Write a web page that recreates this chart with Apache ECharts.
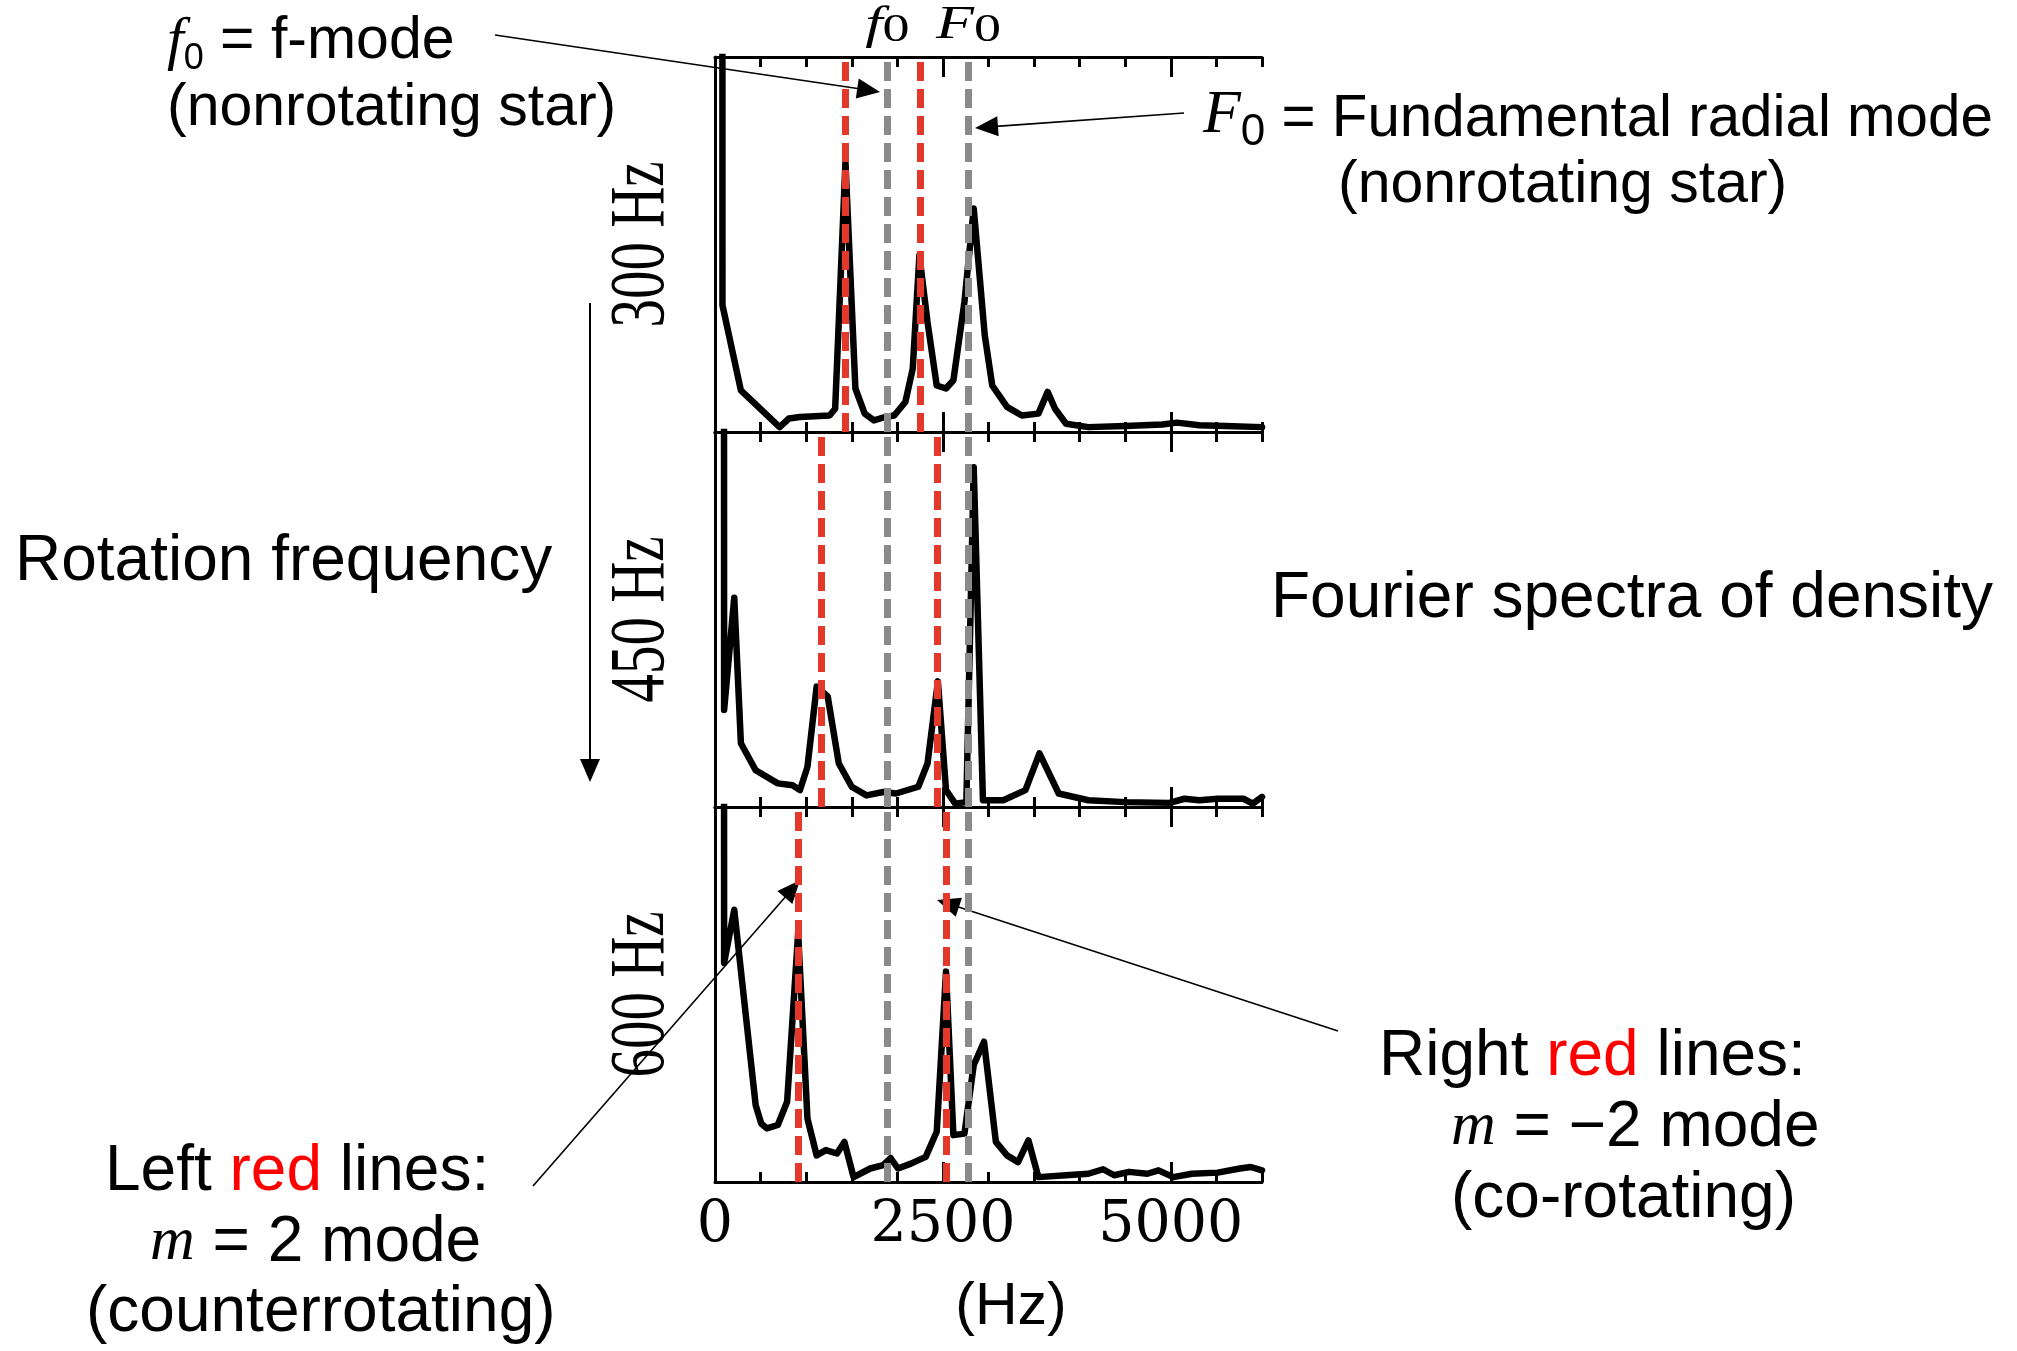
<!DOCTYPE html>
<html>
<head>
<meta charset="utf-8">
<title>Fourier spectra of density</title>
<script src="https://cdn.jsdelivr.net/npm/echarts@6/dist/echarts.min.js"></script>
<style>
html,body{margin:0;padding:0;background:#ffffff;}
#chart{width:2017px;height:1351px;}
</style>
</head>
<body>
<div id="chart"></div>
<script>
// ---------------- data ----------------
// x in Hz, y in percent of the panel height (arbitrary spectral amplitude)
const rotationLabels = ['300 Hz', '450 Hz', '600 Hz'];
const xTickLabels = [0, 2500, 5000];
const xMax = 6000;
const fMode0 = 1892;     // f0 : f-mode of the nonrotating star
const radialF0 = 2780;   // F0 : fundamental radial mode of the nonrotating star
const redLines300 = [1427, 2248];
const redLines450 = [1168, 2439];
const redLines600 = [913, 2540];

const spectrum300 = [
  [78, 400], [82, 33.8], [284, 11.1], [709, 1.3], [811, 3.6], [932, 4.0], [1257, 4.4],
  [1318, 6.2], [1431, 72.0], [1540, 11.6], [1642, 4.9], [1743, 3.1], [1865, 4.0],
  [1966, 4.4], [2088, 8.0], [2169, 16.9], [2242, 47.1], [2331, 29.3], [2432, 12.4],
  [2534, 11.6], [2615, 13.8], [2736, 34.7], [2838, 59.6], [2959, 25.8], [3041, 12.4],
  [3203, 6.7], [3365, 4.4], [3547, 4.9], [3649, 10.7], [3730, 6.2], [3851, 2.2],
  [4095, 1.3], [4500, 1.6], [4905, 2.0], [5068, 2.5], [5311, 1.8], [5595, 1.6], [6000, 1.3]
];
const spectrum450 = [
  [95, 400], [100, 25.9], [211, 55.8], [284, 17.0], [446, 9.8], [689, 6.3], [851, 5.8],
  [932, 4.5], [1014, 10.7], [1115, 32.1], [1236, 29.5], [1358, 11.6], [1500, 5.4],
  [1662, 3.1], [1845, 4.0], [1986, 3.6], [2230, 5.4], [2331, 11.6], [2445, 33.5],
  [2534, 4.5], [2635, 0.9], [2757, 1.3], [2838, 90.6], [2939, 1.8], [3162, 1.8],
  [3405, 4.5], [3559, 14.3], [3770, 3.6], [4095, 1.8], [4500, 1.3], [4986, 1.1],
  [5149, 2.2], [5311, 1.8], [5514, 2.2], [5797, 2.2], [5899, 0.9], [6000, 2.7]
];
const spectrum600 = [
  [95, 400], [100, 58.4], [211, 72.6], [446, 20.5], [507, 15.6], [568, 14.3], [689, 15.2],
  [791, 21.4], [912, 66.4], [1014, 16.9], [1115, 7.1], [1216, 8.5], [1338, 7.6],
  [1419, 10.7], [1520, 1.3], [1703, 3.6], [1845, 4.5], [1926, 6.4], [2007, 3.6],
  [2149, 4.9], [2311, 6.7], [2432, 13.4], [2534, 56.1], [2615, 12.5], [2736, 12.9],
  [2838, 31.2], [2951, 37.4], [3081, 10.7], [3203, 7.1], [3324, 5.3], [3438, 11.1],
  [3547, 1.3], [3851, 1.8], [4095, 2.2], [4257, 3.4], [4378, 1.8], [4541, 2.7],
  [4743, 2.2], [4865, 3.1], [5027, 1.3], [5230, 2.2], [5514, 2.5], [5757, 3.6],
  [5878, 4.0], [6000, 3.1]
];

// annotation arrow targets in data space: [panel, Hz, percent]
const arrowTargets = {
  f0:    [0, 1810, 90.7],
  F0:    [0, 2852, 81.1],
  left:  [2, 932, 80.5],
  right: [2, 2435, 75.2]
};

// ---------------- layout & style ----------------
const PLOT = { left: 715, width: 547, top: 57, height: 375 };
const RED = '#e2392b';
const GREY = '#8a8a8a';
const SANS = 'Liberation Sans';
const SERIF = 'Liberation Serif';

const panels = [
  { label: rotationLabels[0], data: spectrum300, red: redLines300 },
  { label: rotationLabels[1], data: spectrum450, red: redLines450 },
  { label: rotationLabels[2], data: spectrum600, red: redLines600 }
];

const chart = echarts.init(document.getElementById('chart'));

const grids = panels.map((p, i) => ({
  left: PLOT.left, width: PLOT.width,
  top: PLOT.top + i * PLOT.height, height: PLOT.height,
  containLabel: false
}));

const xAxes = [];
panels.forEach((p, i) => {
  ['bottom', 'top'].forEach(pos => {
    // minor ticks every 500 Hz + axis line
    xAxes.push({
      type: 'value', gridIndex: i, position: pos, min: 0, max: xMax, interval: 500,
      axisLine: { show: true, onZero: false, lineStyle: { color: '#000', width: 3 } },
      axisTick: { show: true, inside: true, length: 10, lineStyle: { color: '#000', width: 3 } },
      axisLabel: { show: false },
      splitLine: { show: false }
    });
    // major ticks at the labelled values
    xAxes.push({
      type: 'value', gridIndex: i, position: pos, min: 0, max: xMax, interval: 2500,
      axisLine: { show: false, onZero: false },
      axisTick: { show: true, inside: true, length: 20, customValues: xTickLabels,
                  lineStyle: { color: '#000', width: 3 } },
      axisLabel: { show: (i === 2 && pos === 'bottom'), customValues: xTickLabels,
                   formatter: v => String(v),
                   fontFamily: 'DejaVu Serif', fontSize: 57, color: '#000', margin: 16 },
      splitLine: { show: false }
    });
  });
});

const yAxes = panels.map((p, i) => ({
  type: 'value', gridIndex: i, min: 0, max: 100,
  axisLine: { show: true, onZero: false, lineStyle: { color: '#000', width: 3 } },
  axisTick: { show: false }, axisLabel: { show: false }, splitLine: { show: false }
}));

function vline(v, color) {
  return { xAxis: v, lineStyle: { color: color, width: 7, type: [19, 8] } };
}

const series = [];
panels.forEach((p, i) => {
  series.push({
    type: 'line', name: 'modes ' + p.label, xAxisIndex: 4 * i, yAxisIndex: i,
    data: [], z: 1, silent: true,
    markLine: {
      silent: true, symbol: ['none', 'none'], label: { show: false },
      lineStyle: { width: 7, type: [19, 8] },
      emphasis: { disabled: true },
      data: [vline(p.red[0], RED), vline(fMode0, GREY), vline(p.red[1], RED), vline(radialF0, GREY)]
    }
  });
  series.push({
    type: 'line', name: p.label, xAxisIndex: 4 * i, yAxisIndex: i,
    data: p.data, showSymbol: false, symbol: 'none', clip: true, z: 3, silent: true,
    lineStyle: { color: '#000', width: 6.5, join: 'round', cap: 'round' }
  });
});

chart.setOption({
  animation: false,
  backgroundColor: '#ffffff',
  grid: grids,
  xAxis: xAxes,
  yAxis: yAxes,
  series: series
});

// ---------------- annotations ----------------
const px = (panel, x, y) => chart.convertToPixel({ seriesIndex: 2 * panel + 1 }, [x, y]);

const rich = {
  t:   { fontFamily: SANS, fontSize: 59, lineHeight: 70, fill: '#000' },
  tr:  { fontFamily: SANS, fontSize: 58.3, lineHeight: 70, fill: '#000' },
  T:   { fontFamily: SANS, fontSize: 64, lineHeight: 74, fill: '#000' },
  R:   { fontFamily: SANS, fontSize: 64, lineHeight: 74, fill: '#ff0000' },
  fi:  { fontFamily: SERIF, fontStyle: 'italic', fontSize: 60, lineHeight: 70, fill: '#000' },
  s0:  { fontFamily: SANS, fontSize: 36, lineHeight: 54, verticalAlign: 'bottom', fill: '#000' },
  Fi:  { fontFamily: SERIF, fontStyle: 'italic', fontSize: 62, lineHeight: 44, verticalAlign: 'top', fill: '#000' },
  s1:  { fontFamily: SANS, fontSize: 44, lineHeight: 63, verticalAlign: 'bottom', fill: '#000' },
  mi:  { fontFamily: SERIF, fontStyle: 'italic', fontSize: 62, lineHeight: 74, fill: '#000' },
  // math labels above the top panel
  ml:  { fontFamily: SERIF, fontStyle: 'italic', fontSize: 46, lineHeight: 48, fill: '#000' },
  ms:  { fontFamily: SERIF, fontSize: 40, lineHeight: 34, verticalAlign: 'bottom', fill: '#000' }
};

function text(x, y, str, opt) {
  opt = opt || {};
  return {
    type: 'text', x: x, y: y, silent: true,
    rotation: opt.rotation || 0, scaleX: opt.scaleX || 1, scaleY: opt.scaleY || 1,
    style: {
      text: str, fill: '#000',
      fontFamily: opt.family || SANS, fontSize: opt.size || 64,
      align: opt.align || 'left', verticalAlign: 'middle',
      textAlign: opt.align || 'left', textVerticalAlign: 'middle',
      rich: rich
    }
  };
}

function arrow(x1, y1, x2, y2, lw) {
  const dx = x2 - x1, dy = y2 - y1, len = Math.hypot(dx, dy);
  const ux = dx / len, uy = dy / len, hl = 23, hw = 10;
  const bx = x2 - ux * hl, by = y2 - uy * hl;
  return [
    { type: 'line', silent: true, shape: { x1: x1, y1: y1, x2: bx + ux * 2, y2: by + uy * 2 },
      style: { stroke: '#000', lineWidth: lw || 1.6 } },
    { type: 'polygon', silent: true,
      shape: { points: [[x2, y2], [bx - uy * hw, by + ux * hw], [bx + uy * hw, by - ux * hw]] },
      style: { fill: '#000' } }
  ];
}

const g = [];
// rotation-frequency labels beside each panel
panels.forEach((p, i) => {
  const c = px(i, 0, 50);
  g.push(text(PLOT.left - 73, c[1], p.label,
    { family: SERIF, size: 57, align: 'center', rotation: Math.PI / 2, scaleY: 1.37 }));
});
// f0 / F0 labels above the dashed grey lines
const xf = px(0, fMode0, 100), xF = px(0, radialF0, 100);
g.push(text(xf[0], PLOT.top - 31, '{ml|f}{ms|0}', { align: 'center', scaleX: 1.35 }));
g.push(text(xF[0], PLOT.top - 31, '{ml|F}{ms|0}', { align: 'center', scaleX: 1.35 }));

// text blocks
g.push(text(167, 42, '{fi|f}{s0|0}{t| = f-mode}'));
g.push(text(167, 109, '{t|(nonrotating star)}'));
g.push(text(1203, 120, '{Fi|F}{s1|0}{tr| = Fundamental radial mode}'));
g.push(text(1338, 186, '{t|(nonrotating star)}'));
g.push(text(15, 562, '{T|Rotation frequency}'));
g.push(text(1271, 599, '{T|Fourier spectra of density}'));
g.push(text(105, 1172, '{T|Left }{R|red}{T| lines:}'));
g.push(text(150, 1243, '{mi|m}{T| = 2 mode}'));
g.push(text(86, 1313, '{T|(counterrotating)}'));
g.push(text(1379, 1057, '{T|Right }{R|red}{T| lines:}'));
g.push(text(1451, 1128, '{mi|m}{T| = \u22122 mode}'));
g.push(text(1451, 1199, '{T|(co-rotating)}'));
g.push(text(1011, 1308, '{t|(Hz)}', { align: 'center' }));

// arrows
const tf0 = px.apply(null, arrowTargets.f0);
const tF0 = px.apply(null, arrowTargets.F0);
const tL = px.apply(null, arrowTargets.left);
const tR = px.apply(null, arrowTargets.right);
arrow(495, 35, tf0[0], tf0[1]).forEach(e => g.push(e));
arrow(1184, 113, tF0[0], tF0[1]).forEach(e => g.push(e));
arrow(533, 1186, tL[0], tL[1]).forEach(e => g.push(e));
arrow(1338, 1031, tR[0], tR[1]).forEach(e => g.push(e));
arrow(590, 303, 590, 782, 2).forEach(e => g.push(e));

chart.setOption({ graphic: { elements: g } });
</script>
</body>
</html>
